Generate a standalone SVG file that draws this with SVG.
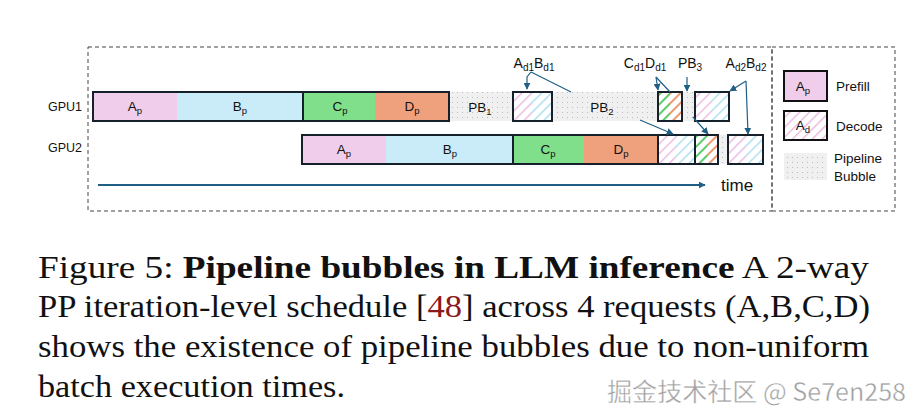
<svg xmlns="http://www.w3.org/2000/svg" width="922" height="420" viewBox="0 0 922 420">
<style>
.lbl{font-family:"Liberation Sans",Arial,sans-serif;font-size:13.5px;fill:#111}
.ann{font-family:"Liberation Sans",Arial,sans-serif;font-size:14px;fill:#111}
.sm{font-family:"Liberation Sans",Arial,sans-serif;font-size:12.5px;fill:#111}
.leg{font-family:"Liberation Sans",Arial,sans-serif;font-size:13.5px;fill:#111}
.box{fill:none;stroke:#15202b;stroke-width:2}
.dbox{stroke:#111;stroke-width:2}
.frame{fill:none;stroke:#444;stroke-width:1;stroke-dasharray:4 3}
.arr{fill:none;stroke:#1f5f86;stroke-width:1.2}
.cap{font-family:"Liberation Serif","Times New Roman",serif;font-size:31px;fill:#111}
</style>
<defs>
<pattern id="hpink" patternUnits="userSpaceOnUse" width="7" height="7" patternTransform="rotate(45)"><rect width="7" height="7" fill="#fff"/><rect width="1.4" height="7" fill="#eab6de"/></pattern>
<pattern id="hblue" patternUnits="userSpaceOnUse" width="7" height="7" patternTransform="rotate(45)"><rect width="7" height="7" fill="#fff"/><rect width="1.4" height="7" fill="#a8dcef"/></pattern>
<pattern id="hgreen" patternUnits="userSpaceOnUse" width="7" height="7" patternTransform="rotate(45)"><rect width="7" height="7" fill="#fff"/><rect width="2" height="7" fill="#5ccc6a"/></pattern>
<pattern id="horange" patternUnits="userSpaceOnUse" width="7" height="7" patternTransform="rotate(45)"><rect width="7" height="7" fill="#fff"/><rect width="2" height="7" fill="#ee9a70"/></pattern>
<pattern id="dots" patternUnits="userSpaceOnUse" width="5" height="5"><rect width="5" height="5" fill="#f0f0f0"/><rect x="2" y="2" width="1" height="1" fill="#bdbdbd"/></pattern>
<marker id="ah" viewBox="0 0 10 10" refX="9" refY="5" markerWidth="7" markerHeight="7" markerUnits="userSpaceOnUse" orient="auto"><path d="M0,0 L10,5 L0,10 z" fill="#1f5f86"/></marker>
</defs>

<g id="frame">
<rect class="frame" x="88" y="47" width="684" height="164"/>
<rect class="frame" x="772" y="47" width="123" height="164"/>
</g>

<g id="gpu-labels">
<text class="sm" x="82" y="111" text-anchor="end">GPU1</text>
<text class="sm" x="82" y="152" text-anchor="end">GPU2</text>
</g>

<g id="gpu1">
<g id="gpu1-prefill-AB">
<rect x="93" y="92" width="84" height="29" fill="#f0cdea"/>
<rect x="177" y="92" width="126" height="29" fill="#caecf8"/>
<rect class="box" x="93" y="92" width="210" height="29"/>
<text class="lbl" x="135" y="111" text-anchor="middle">A<tspan font-size="9.5" dy="3">p</tspan></text>
<text class="lbl" x="240" y="111" text-anchor="middle">B<tspan font-size="9.5" dy="3">p</tspan></text>
</g>
<g id="gpu1-prefill-CD">
<rect x="303" y="92" width="72" height="29" fill="#80df8a"/>
<rect x="375" y="92" width="74" height="29" fill="#efa07c"/>
<rect class="box" x="303" y="92" width="146" height="29"/>
<text class="lbl" x="340" y="111" text-anchor="middle">C<tspan font-size="9.5" dy="3">p</tspan></text>
<text class="lbl" x="412" y="111" text-anchor="middle">D<tspan font-size="9.5" dy="3">p</tspan></text>
</g>
<g id="gpu1-bubbles">
<rect x="450" y="92" width="246" height="29" fill="url(#dots)"/>
<text class="lbl" x="480" y="112" text-anchor="middle">PB<tspan font-size="9.5" dy="3">1</tspan></text>
<text class="lbl" x="602" y="112" text-anchor="middle">PB<tspan font-size="9.5" dy="3">2</tspan></text>
</g>
<g id="gpu1-decode-AB1">
<rect x="513" y="92" width="19" height="29" fill="url(#hpink)"/>
<rect x="532" y="92" width="20" height="29" fill="url(#hblue)"/>
<rect class="box" x="513" y="92" width="39" height="29" stroke="#111"/>
</g>
<g id="gpu1-decode-CD1">
<rect x="658" y="92" width="12" height="29" fill="url(#hgreen)"/>
<rect x="670" y="92" width="12" height="29" fill="url(#horange)"/>
<rect class="box" x="658" y="92" width="24" height="29" stroke="#111"/>
</g>
<g id="gpu1-decode-AB2">
<rect x="695" y="92" width="17" height="29" fill="url(#hpink)"/>
<rect x="712" y="92" width="17" height="29" fill="url(#hblue)"/>
<rect class="box" x="695" y="92" width="34" height="29" stroke="#111"/>
</g>
</g>

<g id="gpu2">
<g id="gpu2-prefill-AB">
<rect x="302" y="135" width="84" height="29" fill="#f0cdea"/>
<rect x="386" y="135" width="127" height="29" fill="#caecf8"/>
<rect class="box" x="302" y="135" width="211" height="29"/>
<text class="lbl" x="344" y="154" text-anchor="middle">A<tspan font-size="9.5" dy="3">p</tspan></text>
<text class="lbl" x="450" y="154" text-anchor="middle">B<tspan font-size="9.5" dy="3">p</tspan></text>
</g>
<g id="gpu2-prefill-CD">
<rect x="513" y="135" width="71" height="29" fill="#80df8a"/>
<rect x="584" y="135" width="74" height="29" fill="#efa07c"/>
<rect class="box" x="513" y="135" width="145" height="29"/>
<text class="lbl" x="548" y="154" text-anchor="middle">C<tspan font-size="9.5" dy="3">p</tspan></text>
<text class="lbl" x="621" y="154" text-anchor="middle">D<tspan font-size="9.5" dy="3">p</tspan></text>
</g>
<g id="gpu2-bubble">
<rect x="718" y="135" width="10" height="29" fill="url(#dots)"/>
</g>
<g id="gpu2-decode-AB1">
<rect x="658" y="135" width="18" height="29" fill="url(#hpink)"/>
<rect x="676" y="135" width="19" height="29" fill="url(#hblue)"/>
<rect class="box" x="658" y="135" width="37" height="29" stroke="#111"/>
</g>
<g id="gpu2-decode-CD1">
<rect x="695" y="135" width="12" height="29" fill="url(#hgreen)"/>
<rect x="707" y="135" width="11" height="29" fill="url(#horange)"/>
<rect class="box" x="695" y="135" width="23" height="29" stroke="#111"/>
</g>
<g id="gpu2-decode-AB2">
<rect x="728" y="135" width="17" height="29" fill="url(#hpink)"/>
<rect x="745" y="135" width="18" height="29" fill="url(#hblue)"/>
<rect class="box" x="728" y="135" width="35" height="29" stroke="#111"/>
</g>
</g>

<g id="annotations">
<text class="ann" x="534" y="68" text-anchor="middle">A<tspan font-size="10" dy="3">d1</tspan><tspan dy="-3">B</tspan><tspan font-size="10" dy="3">d1</tspan></text>
<text class="ann" x="645" y="68" text-anchor="middle">C<tspan font-size="10" dy="3">d1</tspan><tspan dy="-3">D</tspan><tspan font-size="10" dy="3">d1</tspan></text>
<text class="ann" x="690" y="68" text-anchor="middle">PB<tspan font-size="10" dy="3">3</tspan></text>
<text class="ann" x="746" y="68" text-anchor="middle">A<tspan font-size="10" dy="3">d2</tspan><tspan dy="-3">B</tspan><tspan font-size="10" dy="3">d2</tspan></text>
</g>

<g id="connectors">
<polyline class="arr" points="531,72 527,77 527,89" marker-end="url(#ah)"/>
<line class="arr" x1="531" y1="72" x2="571" y2="92"/>
<line class="arr" x1="656" y1="77" x2="658" y2="90" marker-end="url(#ah)"/>
<line class="arr" x1="656" y1="77" x2="670" y2="92"/>
<line class="arr" x1="687" y1="77" x2="687" y2="91" marker-end="url(#ah)"/>
<line class="arr" x1="746" y1="81" x2="730" y2="91" marker-end="url(#ah)"/>
<line class="arr" x1="746" y1="81" x2="748" y2="134" marker-end="url(#ah)"/>
<line class="arr" x1="640" y1="120" x2="673" y2="134" marker-end="url(#ah)"/>
<line class="arr" x1="693" y1="117" x2="708" y2="134" marker-end="url(#ah)"/>
<line x1="98" y1="185" x2="705" y2="185" stroke="#1f5f86" stroke-width="2.2" marker-end="url(#ah)"/>
</g>
<text id="time-label" x="721" y="191" font-family="'Liberation Sans',Arial,sans-serif" font-size="17" fill="#111">time</text>

<g id="legend">
<g id="legend-prefill">
<rect x="784" y="71" width="43" height="30" fill="#f0cdea" class="dbox"/>
<text class="lbl" x="803" y="91" text-anchor="middle">A<tspan font-size="9.5" dy="3">p</tspan></text>
<text class="leg" x="836" y="91">Prefill</text>
</g>
<g id="legend-decode">
<rect x="784" y="111" width="43" height="29" fill="url(#hpink)" class="dbox"/>
<text class="lbl" x="803" y="130" text-anchor="middle">A<tspan font-size="9.5" dy="3">d</tspan></text>
<text class="leg" x="836" y="131">Decode</text>
</g>
<g id="legend-bubble">
<rect x="784" y="153" width="43" height="27" fill="url(#dots)"/>
<text class="leg" x="834" y="163">Pipeline</text>
<text class="leg" x="834" y="181">Bubble</text>
</g>
</g>

<g id="caption">
<text class="cap" x="38" y="278" textLength="831" lengthAdjust="spacingAndGlyphs">Figure 5: <tspan font-weight="bold">Pipeline bubbles in LLM inference</tspan> A 2-way</text>
<text class="cap" x="38" y="317" textLength="832" lengthAdjust="spacingAndGlyphs">PP iteration-level schedule [<tspan fill="#8b1a1a">48</tspan>] across 4 requests (A,B,C,D)</text>
<text class="cap" x="38" y="357" textLength="831" lengthAdjust="spacingAndGlyphs">shows the existence of pipeline bubbles due to non-uniform</text>
<text class="cap" x="38" y="397" textLength="307" lengthAdjust="spacingAndGlyphs">batch execution times.</text>
</g>
<text id="watermark" x="607" y="401" textLength="299" lengthAdjust="spacingAndGlyphs" font-family="'Noto Sans CJK SC','Noto Sans',sans-serif" font-size="25" fill="#a0a0a0" stroke="#ffffff" stroke-width="0.4">掘金技术社区 @ Se7en258</text>
</svg>
